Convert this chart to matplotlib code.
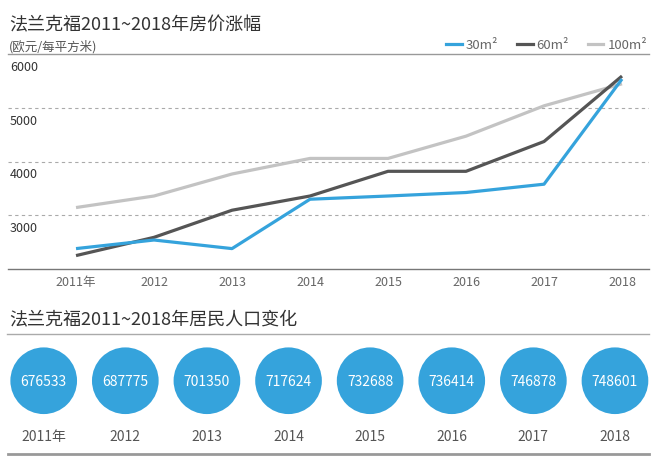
import matplotlib
matplotlib.use("Agg")
import matplotlib.pyplot as plt
import matplotlib.transforms as mtransforms
from matplotlib.lines import Line2D

plt.rcParams['font.family'] = ['Noto Sans CJK SC', 'DejaVu Sans']

# 数据
years = [2011, 2012, 2013, 2014, 2015, 2016, 2017, 2018]
year_labels = ['2011年', '2012', '2013', '2014', '2015', '2016', '2017', '2018']
price_30 = [2380, 2540, 2380, 3300, 3360, 3425, 3580, 5540]
price_60 = [2250, 2590, 3095, 3360, 3820, 3820, 4375, 5595]
price_100 = [3145, 3360, 3770, 4060, 4060, 4475, 5040, 5450]
series_names = ['30m²', '60m²', '100m²']
y_ticks = [3000, 4000, 5000, 6000]
population = [676533, 687775, 701350, 717624, 732688, 736414, 746878, 748601]

BLUE = '#35a3dc'
DARK = '#555555'
LIGHT = '#c3c3c3'

W, H = 667, 477
fig = plt.figure(figsize=(W / 100, H / 100), dpi=100)


def fx(px):
    return px / W


def fy(py):
    return 1 - py / H


# ---- 房价折线图 ----
fig.text(fx(9), fy(25), '法兰克福2011~2018年房价涨幅', fontsize=13, color='#333333',
         va='center', ha='left')
fig.text(fx(9), fy(47), '(欧元/每平方米)', fontsize=9, color='#555555',
         va='center', ha='left')

ax = fig.add_axes([fx(8), fy(270), fx(649) - fx(8), fy(55.3) - fy(270)])
ax.set_xlim(2010.128, 2018.346)
ax.set_ylim(2000, 6000)

ax.plot(years, price_100, color=LIGHT, lw=2.3, solid_capstyle='butt', zorder=3)
ax.plot(years, price_60, color=DARK, lw=2.3, solid_capstyle='butt', zorder=4)
ax.plot(years, price_30, color=BLUE, lw=2.3, solid_capstyle='butt', zorder=5)

for v in y_ticks[:-1]:
    ax.axhline(v, color='#aaaaaa', lw=0.8, ls=(0, (3, 3)), zorder=1)

for s in ['left', 'right']:
    ax.spines[s].set_visible(False)
ax.spines['top'].set_color('#999999')
ax.spines['top'].set_linewidth(1.0)
ax.spines['bottom'].set_color('#777777')
ax.spines['bottom'].set_linewidth(1.0)

ax.set_yticks([])
ax.set_xticks(years)
ax.set_xticklabels(year_labels, fontsize=9, color='#666666')
ax.tick_params(axis='x', length=0, pad=4)

lab_tr = mtransforms.offset_copy(ax.get_yaxis_transform(), fig=fig, x=1.5, y=-4, units='points')
for v in y_ticks:
    ax.text(0, v, str(v), transform=lab_tr, fontsize=9, color='#333333', ha='left', va='top')

handles = [Line2D([], [], color=c, lw=2.3) for c in [BLUE, DARK, LIGHT]]
leg = fig.legend(handles, series_names, loc='center right', bbox_to_anchor=(fx(647), fy(45.7)),
                 ncol=3, frameon=False, fontsize=9.5, handlelength=1.2, handletextpad=0.3,
                 columnspacing=1.4, borderaxespad=0, borderpad=0)
for t in leg.get_texts():
    t.set_color('#666666')

# ---- 人口变化 ----
fig.text(fx(9), fy(319), '法兰克福2011~2018年居民人口变化', fontsize=13, color='#333333',
         va='center', ha='left')
fig.add_artist(Line2D([fx(7), fx(649)], [fy(335), fy(335)], color='#aaaaaa', lw=1.0))

ax2 = fig.add_axes([fx(8), fy(455), fx(649) - fx(8), fy(345) - fy(455)])
ax2.set_xlim(2010.5625, 2018.417)
ax2.set_ylim(0, 1)
ax2.scatter(years, [0.666] * len(years), s=48 ** 2, color=BLUE, edgecolor='none', zorder=2)
for yr, p, lab in zip(years, population, year_labels):
    ax2.text(yr, 0.666, str(p), color='white', fontsize=10, ha='center', va='center', zorder=3)
    ax2.text(yr, 0.166, lab, color='#555555', fontsize=10, ha='center', va='center')

for s in ['left', 'right', 'top']:
    ax2.spines[s].set_visible(False)
ax2.spines['bottom'].set_color('#999999')
ax2.spines['bottom'].set_linewidth(2.0)
ax2.set_xticks([])
ax2.set_yticks([])
ax2.patch.set_alpha(0)

fig.savefig('out.png', dpi=100)
